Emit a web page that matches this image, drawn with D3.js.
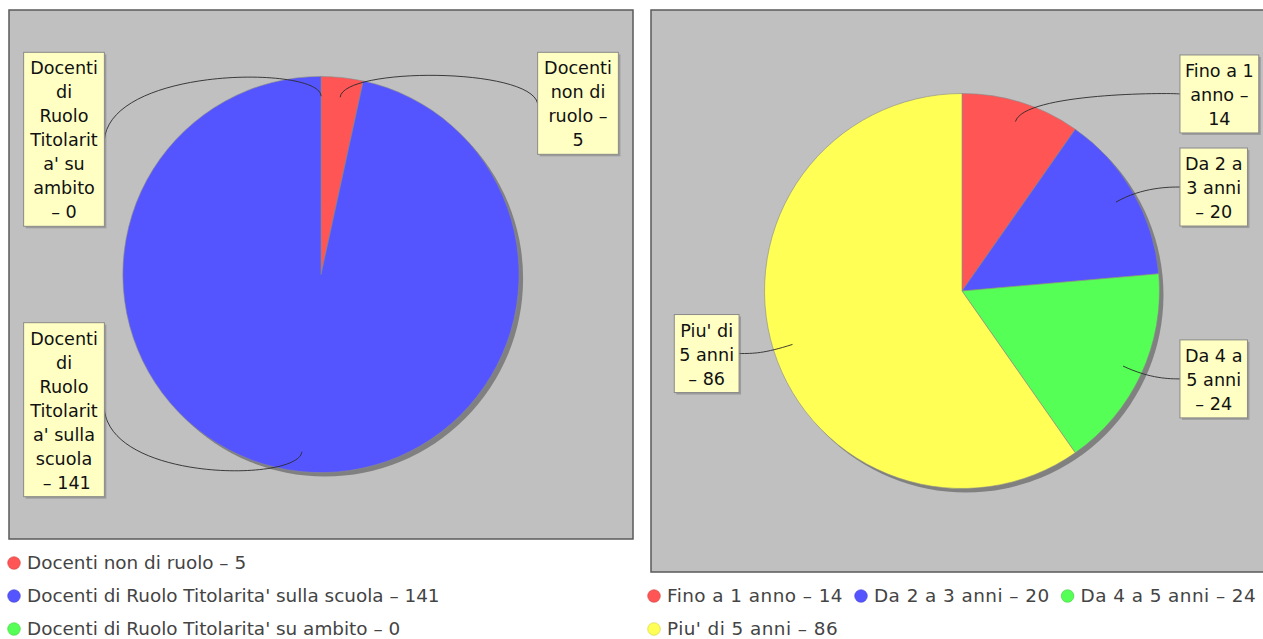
<!DOCTYPE html>
<html><head><meta charset="utf-8">
<script src="https://cdn.jsdelivr.net/npm/d3@7"></script>
<style>body{margin:0;background:#fff;overflow:hidden} svg{display:block;font-family:"DejaVu Sans",sans-serif}</style>
</head><body><svg id="c" width="1263" height="639"></svg>
<script>
// ---- data ----
const leftCategories = ["Docenti non di ruolo", "Docenti di Ruolo Titolarita' sulla scuola", "Docenti di Ruolo Titolarita' su ambito"];
const leftValues = [5, 141, 0];
const leftLabelLines = [
  ["Docenti", "non di", "ruolo –", "5"],
  ["Docenti", "di", "Ruolo", "Titolarit", "a' sulla", "scuola", " – 141"],
  ["Docenti", "di", "Ruolo", "Titolarit", "a' su", "ambito", "– 0"]
];
const rightCategories = ["Fino a 1 anno", "Da 2 a 3 anni", "Da 4 a 5 anni", "Piu' di 5 anni"];
const rightValues = [14, 20, 24, 86];
const rightLabelLines = [
  ["Fino a 1", "anno –", "14"],
  ["Da 2 a", "3 anni", "– 20"],
  ["Da 4 a", "5 anni", "– 24"],
  ["Piu' di", "5 anni", "– 86"]
];
const sliceColors = ["#FF5555", "#5555FF", "#55FF55", "#FFFF55"];

// ---- drawing ----
const svg = d3.select("#c");
const FONT = 17.6;

function measure(txt, size, ls) {
  const t = svg.append("text").attr("font-size", size).attr("letter-spacing", ls || 0).text(txt);
  const w = t.node().getComputedTextLength();
  t.remove();
  return w;
}

function drawChart(cfg) {
  const g = svg.append("g");
  const { x, y, w, h } = cfg.plot;
  g.append("rect").attr("x", x).attr("y", y).attr("width", w).attr("height", h)
    .attr("fill", "#C0C0C0").attr("stroke", "#5a5a5a").attr("stroke-width", 1.5);

  const cx = x + w / 2, cy = y + h / 2;
  const r = w * 0.3175;
  const linkR = r * 1.053;
  const pie = d3.pie().sort(null).value(d => d)(cfg.values);
  const arc = d3.arc().innerRadius(0).outerRadius(r);
  const pg = g.append("g").attr("transform", `translate(${cx},${cy})`);

  // shadow
  pg.append("circle").attr("cx", 4).attr("cy", 4).attr("r", r).attr("fill", "#808080");
  pg.selectAll("path.slice").data(pie).join("path").attr("class", "slice")
    .attr("d", arc).attr("fill", (d, i) => sliceColors[i])
    .attr("stroke", "#8a8a8a").attr("stroke-width", 0.6)
    .attr("display", d => d.value === 0 ? "none" : null);

  const minY = y + h * 0.08, maxY = y + h - h * 0.08;
  const links = g.append("g"), labels = g.append("g");
  pie.forEach((d, i) => {
    const a = (d.startAngle + d.endAngle) / 2;
    const s = Math.sin(a), c = Math.cos(a);
    const left = s < 1e-6; // a label exactly at the top goes to the left side
    const linkX = cx + s * r * 0.9, linkY = cy - c * r * 0.9;
    const elbowX = cx + s * linkR, elbowY = cy - c * linkR;
    const anchorX = left ? cx - linkR : cx + linkR;
    const targetX = left ? anchorX - cfg.gapL : anchorX + cfg.gapR;

    const lines = cfg.labelLines[i];
    const lh = 24, pad = 3;
    const bh = lines.length * lh + pad * 2;
    const tw = d3.max(lines, l => measure(l, FONT));
    const bw = tw + cfg.boxPad * 2;
    let top = elbowY - bh / 2;
    top = Math.max(minY, Math.min(maxY - bh, top));
    const targetY = top + bh / 2;
    const bx = left ? targetX - bw : targetX;

    const p = d3.path();
    p.moveTo(targetX, targetY);
    p.bezierCurveTo(anchorX, elbowY, elbowX, elbowY, linkX, linkY);
    links.append("path").attr("d", p.toString()).attr("fill", "none")
      .attr("stroke", "#2a2a2a").attr("stroke-width", 0.9);

    labels.append("rect").attr("x", bx + 2).attr("y", top + 2).attr("width", bw).attr("height", bh)
      .attr("fill", "rgba(110,110,110,0.45)");
    labels.append("rect").attr("x", bx).attr("y", top).attr("width", bw).attr("height", bh)
      .attr("fill", "#FFFFC4").attr("stroke", "#8a8a8a").attr("stroke-width", 1);
    labels.append("text").attr("font-size", FONT).attr("fill", "#111")
      .attr("text-anchor", "middle")
      .selectAll("tspan").data(lines).join("tspan")
      .attr("x", bx + bw / 2).attr("y", (l, k) => top + pad + 19 + k * lh).text(l => l);
  });

  // legend
  const lg = g.append("g");
  const fs = cfg.legend.font, ls = cfg.legend.ls;
  let lx = cfg.legend.x, ly = cfg.legend.y;
  cfg.categories.forEach((cat, i) => {
    const txt = `${cat} – ${cfg.values[i]}`;
    const tw = measure(txt, fs, ls);
    if (lx > cfg.legend.x && lx + 20 + tw > cfg.legend.maxX) { lx = cfg.legend.x; ly += 33; }
    lg.append("circle").attr("cx", lx + 7).attr("cy", ly).attr("r", 6.3)
      .attr("fill", sliceColors[i]).attr("stroke", d3.color(sliceColors[i]).darker(0.6)).attr("stroke-width", 0.6);
    lg.append("text").attr("x", lx + 20).attr("y", ly + 5.5).attr("font-size", fs)
      .attr("letter-spacing", ls).attr("fill", "#444").text(txt);
    lx = lx + 20 + tw + 11;
  });
}

drawChart({
  plot: { x: 9, y: 10, w: 624, h: 529 },
  values: leftValues, categories: leftCategories, labelLines: leftLabelLines,
  gapL: 8, gapR: 8, boxPad: 6.5,
  legend: { x: 7, y: 563, maxX: 633, font: 18.4, ls: 0 }
});
drawChart({
  plot: { x: 651, y: 10, w: 622, h: 562 },
  values: rightValues, categories: rightCategories, labelLines: rightLabelLines,
  gapL: 15, gapR: 10, boxPad: 5,
  legend: { x: 647, y: 596, maxX: 1263, font: 18.4, ls: 0.45 }
});
</script></body></html>
